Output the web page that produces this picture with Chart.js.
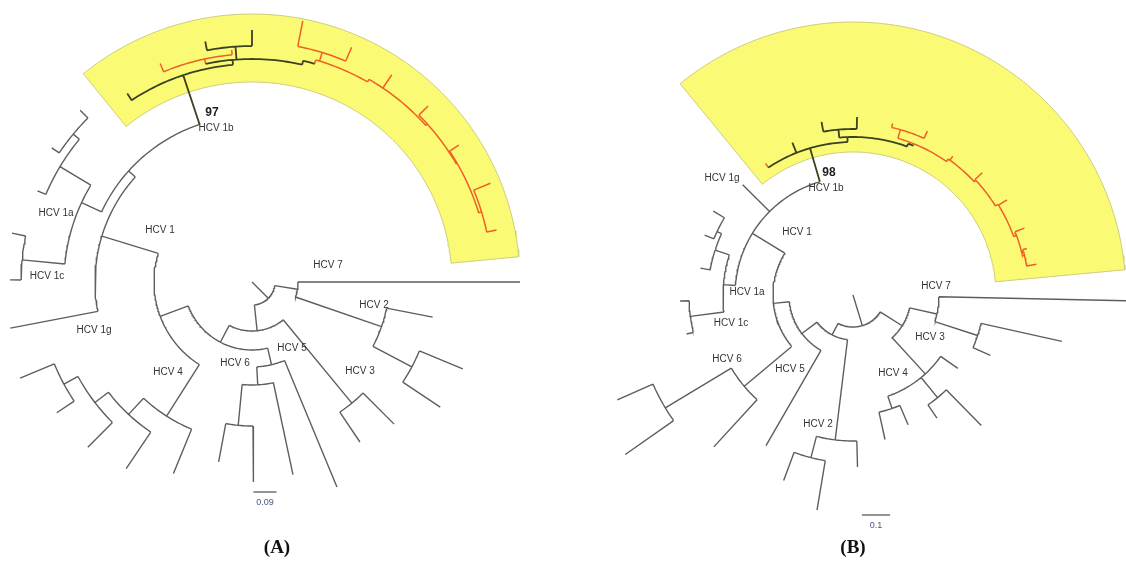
<!DOCTYPE html>
<html>
<head>
<meta charset="utf-8">
<script src="https://cdn.jsdelivr.net/npm/chart.js@4.4.0/dist/chart.umd.min.js"></script>
<style>
html,body{margin:0;padding:0;background:#fff;}
#wrap{width:1126px;height:563px;position:relative;}
</style>
</head>
<body>
<div id="wrap"><canvas id="treeChart"></canvas></div>
<script>
// circular trees: [node, parent, angle (deg, clockwise from east), radius, clade]
// clade: g = other genotypes, d = 1b dark, o = 1b orange
const treeA = [
  ['root', null, 45, 0, 'g'],
  ['X', 'root', 45, 23, 'g'],
  ['Y', 'X', 9, 46, 'g'],
  ['hcv7', 'Y', 0, 268, 'g'],
  ['Z', 'Y', 19, 137, 'g'],
  ['hcv2a', 'Z', 11, 184, 'g'],
  ['W', 'Z', 28, 181, 'g'],
  ['hcv2b', 'W', 22.4, 228, 'g'],
  ['hcv2c', 'W', 33.6, 226, 'g'],
  ['V', 'X', 84, 49, 'g'],
  ['H3', 'V', 50.5, 157, 'g'],
  ['hcv3a', 'H3', 45, 201, 'g'],
  ['hcv3b', 'H3', 56, 193, 'g'],
  ['U', 'V', 117.7, 68, 'g'],
  ['N85', 'U', 76.7, 85, 'g'],
  ['hcv5a', 'N85', 67.5, 222, 'g'],
  ['N103', 'N85', 86.8, 103, 'g'],
  ['hcv5b', 'N103', 78, 197, 'g'],
  ['N144', 'N103', 95.5, 144, 'g'],
  ['hcv6a', 'N144', 89.6, 200, 'g'],
  ['hcv6b', 'N144', 100.5, 183, 'g'],
  ['T', 'U', 159.5, 98, 'g'],
  ['H4', 'T', 122.5, 159, 'g'],
  ['hcv4a', 'H4', 112.3, 207, 'g'],
  ['H4b', 'H4', 133, 181, 'g'],
  ['hcv4b', 'H4b', 124, 225, 'g'],
  ['H4c', 'H4b', 142.5, 198, 'g'],
  ['hcv4c', 'H4c', 134.8, 233, 'g'],
  ['H4d', 'H4c', 151.5, 214, 'g'],
  ['hcv4d', 'H4d', 146.2, 235, 'g'],
  ['hcv4e', 'H4d', 157.5, 251, 'g'],
  ['H1', 'T', 197, 157, 'g'],
  ['hcv1g', 'H1', 169.2, 246, 'g'],
  ['K', 'H1', 222, 166, 'g'],
  ['L', 'K', 205, 188, 'g'],
  ['H1c', 'L', 185.5, 231, 'g'],
  ['hcv1ca', 'H1c', 180.5, 242, 'g'],
  ['hcv1cb', 'H1c', 191.5, 245, 'g'],
  ['H1a', 'L', 211, 224, 'g'],
  ['hcv1aa', 'H1a', 203, 233, 'g'],
  ['H1a2', 'H1a', 219.6, 232, 'g'],
  ['hcv1ab', 'H1a2', 213.8, 241, 'g'],
  ['hcv1ac', 'H1a2', 225, 243, 'g'],
  ['B1', 'K', 251.6, 218, 'd'],
  ['bd0', 'B1', 236.5, 226, 'd'],
  ['B2', 'B1', 265, 223, 'd'],
  ['O1', 'B2', 258, 228, 'o'],
  ['bo1', 'O1', 247.2, 237, 'o'],
  ['bo2', 'O1', 265, 233, 'o'],
  ['D1', 'B2', 266, 236, 'd'],
  ['bd1', 'D1', 259, 245, 'd'],
  ['bd2', 'D1', 270, 252, 'd'],
  ['B3', 'B2', 283, 227, 'd'],
  ['OM', 'B3', 286, 231, 'o'],
  ['OT', 'OM', 287, 240, 'o'],
  ['bo3', 'OT', 281, 266, 'o'],
  ['bo4', 'OT', 293, 255, 'o'],
  ['M1', 'OM', 300, 234, 'o'],
  ['bo5', 'M1', 304, 250, 'o'],
  ['M2', 'M1', 318, 236, 'o'],
  ['bo6', 'M2', 315, 249, 'o'],
  ['M3', 'M2', 330, 237, 'o'],
  ['bo7', 'M3', 326.5, 248, 'o'],
  ['M4', 'M3', 343, 240, 'o'],
  ['bo8', 'M4', 337.5, 258, 'o'],
  ['bo9', 'M4', 348, 250, 'o']
];

const treeB = [
  ['root', null, 73, 0, 'g'],
  ['R1', 'root', 73, 32, 'g'],
  ['N4', 'R1', 32, 58, 'g'],
  ['N73', 'N4', 12.8, 86, 'g'],
  ['hcv7', 'N73', 1.2, 275, 'g'],
  ['H3', 'N73', 18, 131, 'g'],
  ['hcv3a', 'H3', 12.5, 214, 'g'],
  ['hcv3b', 'H3', 23.7, 150, 'g'],
  ['N4b', 'N4', 47.5, 107, 'g'],
  ['hcv4a', 'N4b', 35, 128, 'g'],
  ['S1', 'N4b', 50.5, 133, 'g'],
  ['hcv4b', 'S1', 45.5, 183, 'g'],
  ['hcv4c', 'S1', 55.7, 149, 'g'],
  ['S2', 'N4b', 71, 120, 'g'],
  ['hcv4d', 'S2', 67, 141, 'g'],
  ['hcv4e', 'S2', 77.5, 148, 'g'],
  ['Q', 'R1', 117.7, 45, 'g'],
  ['H2', 'Q', 97, 146, 'g'],
  ['H2b', 'H2', 104.5, 168, 'g'],
  ['hcv2a', 'H2b', 110.5, 198, 'g'],
  ['hcv2b', 'H2b', 99.5, 218, 'g'],
  ['hcv2c', 'H2', 88.5, 172, 'g'],
  ['P5', 'Q', 143, 64, 'g'],
  ['hcv5', 'P5', 120, 174, 'g'],
  ['N16', 'P5', 174, 80, 'g'],
  ['H6', 'N16', 140, 142, 'g'],
  ['H6b', 'H6', 149, 219, 'g'],
  ['hcv6a', 'H6b', 156, 258, 'g'],
  ['hcv6b', 'H6b', 145, 278, 'g'],
  ['hcv6c', 'H6', 132.5, 206, 'g'],
  ['H', 'N16', 211.5, 118, 'g'],
  ['hcv1g', 'H', 225, 156, 'g'],
  ['H1ac', 'H', 184.6, 130, 'g'],
  ['H1c', 'H1ac', 172.5, 164, 'g'],
  ['hcv1ca', 'H1c', 178, 173, 'g'],
  ['hcv1cb', 'H1c', 166.8, 171, 'g'],
  ['H1a', 'H1ac', 198, 145, 'g'],
  ['hcv1aa', 'H1a', 190, 155, 'g'],
  ['H1a2', 'H1a', 205, 150, 'g'],
  ['hcv1ab', 'H1a2', 202, 160, 'g'],
  ['hcv1ac', 'H1a2', 211, 163, 'g'],
  ['B1', 'H', 253.7, 153, 'd'],
  ['bo0', 'B1', 236.4, 158, 'o'],
  ['bd0', 'B1', 248.3, 164, 'd'],
  ['B2', 'B1', 268, 158, 'd'],
  ['D1', 'B2', 265, 166, 'd'],
  ['bd1', 'D1', 259.7, 176, 'd'],
  ['bd2', 'D1', 271.3, 178, 'd'],
  ['B3', 'B2', 290, 161, 'd'],
  ['OM', 'B3', 292, 163, 'o'],
  ['OT', 'OM', 286, 172, 'o'],
  ['bo1', 'OT', 283, 176, 'o'],
  ['bo2', 'OT', 294.4, 180, 'o'],
  ['M1', 'OM', 305, 166, 'o'],
  ['bo3', 'M1', 305.7, 171, 'o'],
  ['M2', 'M1', 317, 168, 'o'],
  ['bo4', 'M2', 316.6, 178, 'o'],
  ['M3', 'M2', 328, 171, 'o'],
  ['bo5', 'M3', 328.3, 181, 'o'],
  ['M4', 'M3', 340, 174, 'o'],
  ['bo6', 'M4', 338.7, 184, 'o'],
  ['M5', 'M4', 347, 176, 'o'],
  ['bo7', 'M5', 345, 180, 'o'],
  ['bo8', 'M5', 350.5, 186, 'o']
];

// highlighted 1b sector: [start angle, end angle, inner radius, outer radius]
const bandA = [231, 354.6, 200, 268];
const bandB = [230.7, 354.7, 143, 273];

// scale bars
const scaleValues = [0.09, 0.1];
const scaleLabels = ['0.09', '0.1'];

const labelsA = ['97', 'HCV 1b', 'HCV 1a', 'HCV 1c', 'HCV 1', 'HCV 1g', 'HCV 4', 'HCV 6', 'HCV 5', 'HCV 3', 'HCV 2', 'HCV 7'];
const labelsB = ['98', 'HCV 1b', 'HCV 1g', 'HCV 1', 'HCV 1a', 'HCV 1c', 'HCV 6', 'HCV 5', 'HCV 2', 'HCV 7', 'HCV 3', 'HCV 4'];
const panelTitles = ['(A)', '(B)'];

// layout
const panelA = {cx: 252, cy: 282, unit: 256, barX: 265, barY: 492};
const panelB = {cx: 853, cy: 295, unit: 280, barX: 876, barY: 515};
const labelPosA = [[212,113],[216,128],[56,213],[47,276],[160,230],[94,330],[168,372],[235,363],[292,348],[360,371],[374,305],[328,265]];
const labelPosB = [[829,173],[826,188],[722,178],[797,232],[747,292],[731,323],[727,359],[790,369],[818,424],[936,286],[930,337],[893,373]];
const titlePos = [[277,548],[853,548]];

const colours = {g: '#5e5e5e', d: '#3c4120', o: '#ef5f26'};
const widths = {g: 1.4, d: 1.8, o: 1.5};

function toXY(p, ang, r) {
  const a = ang * Math.PI / 180;
  return {x: p.cx + r * Math.cos(a), y: p.cy + r * Math.sin(a)};
}

// arc at the parent's radius takes the parent's colour, the radial branch the child's
function branches(rows, p) {
  const byName = {};
  rows.forEach(r => byName[r[0]] = r);
  const out = {g: [], d: [], o: []};
  rows.forEach(([name, parent, ang, rad, clade]) => {
    if (!parent) return;
    const pr = byName[parent];
    const a0 = pr[2], rp = pr[3];
    if (rp > 0 && ang !== a0) {
      const arc = out[pr[4]];
      const n = Math.max(1, Math.ceil(Math.abs(ang - a0)));
      for (let i = 0; i <= n; i++) arc.push(toXY(p, a0 + (ang - a0) * i / n, rp));
      arc.push({x: null, y: null});
    }
    const pts = out[clade];
    pts.push(toXY(p, ang, rp));
    pts.push(toXY(p, ang, rad));
    pts.push({x: null, y: null});
  });
  return out;
}

function sector(b, p) {
  const [a0, a1, ri, ro] = b;
  const pts = [];
  for (let a = a0; a < a1; a += 1) pts.push(toXY(p, a, ro));
  pts.push(toXY(p, a1, ro));
  for (let a = a1; a > a0; a -= 1) pts.push(toXY(p, a, ri));
  pts.push(toXY(p, a0, ri));
  pts.push(toXY(p, a0, ro));
  return pts;
}

function bar(p, v) {
  const half = v * p.unit / 2;
  return [{x: p.barX - half, y: p.barY}, {x: p.barX + half, y: p.barY}];
}

const datasets = [];
[[bandA, panelA], [bandB, panelB]].forEach(([b, p]) => {
  datasets.push({
    data: sector(b, p), showLine: true, fill: 'shape', pointRadius: 0,
    backgroundColor: '#fafa74', borderColor: '#cdcd7c', borderWidth: 1, order: 2
  });
});
[[treeA, panelA], [treeB, panelB]].forEach(([t, p]) => {
  const segs = branches(t, p);
  ['g', 'd', 'o'].forEach(k => {
    datasets.push({
      data: segs[k], showLine: true, spanGaps: false, fill: false, pointRadius: 0,
      borderColor: colours[k], borderWidth: widths[k], order: 0
    });
  });
});
[panelA, panelB].forEach((p, i) => {
  datasets.push({
    data: bar(p, scaleValues[i]), showLine: true, fill: false, pointRadius: 0,
    borderColor: '#5a5a5a', borderWidth: 1.3, order: 0
  });
});

const textPlugin = {
  id: 'treeText',
  afterDatasetsDraw(chart) {
    const {ctx, scales: {x, y}} = chart;
    ctx.save();
    ctx.textAlign = 'center';
    ctx.textBaseline = 'middle';
    const put = (t, pos, font, col) => {
      ctx.font = font;
      ctx.fillStyle = col;
      ctx.fillText(t, x.getPixelForValue(pos[0]), y.getPixelForValue(pos[1]));
    };
    [[labelsA, labelPosA], [labelsB, labelPosB]].forEach(([ls, ps]) => {
      ls.forEach((t, i) => {
        const boot = /^\d+$/.test(t);
        put(t, ps[i], boot ? 'bold 12px "Liberation Sans", Arial' : '10px "Liberation Sans", Arial', boot ? '#1e1e1e' : '#333');
      });
    });
    [panelA, panelB].forEach((p, i) => {
      put(scaleLabels[i], [p.barX, p.barY + 11], '9px "Liberation Sans", Arial', '#4b5a84');
    });
    panelTitles.forEach((t, i) => put(t, titlePos[i], 'bold 19px "Liberation Serif", "Times New Roman", serif', '#111'));
    ctx.restore();
  }
};

new Chart(document.getElementById('treeChart'), {
  type: 'scatter',
  data: {datasets},
  options: {
    responsive: true,
    maintainAspectRatio: false,
    animation: false,
    layout: {padding: 0},
    plugins: {legend: {display: false}, tooltip: {enabled: false}},
    elements: {line: {tension: 0, borderCapStyle: 'butt', borderJoinStyle: 'miter'}},
    scales: {
      x: {type: 'linear', min: 0, max: 1126, display: false},
      y: {type: 'linear', min: 0, max: 563, reverse: true, display: false}
    }
  },
  plugins: [textPlugin]
});
</script>
</body>
</html>
